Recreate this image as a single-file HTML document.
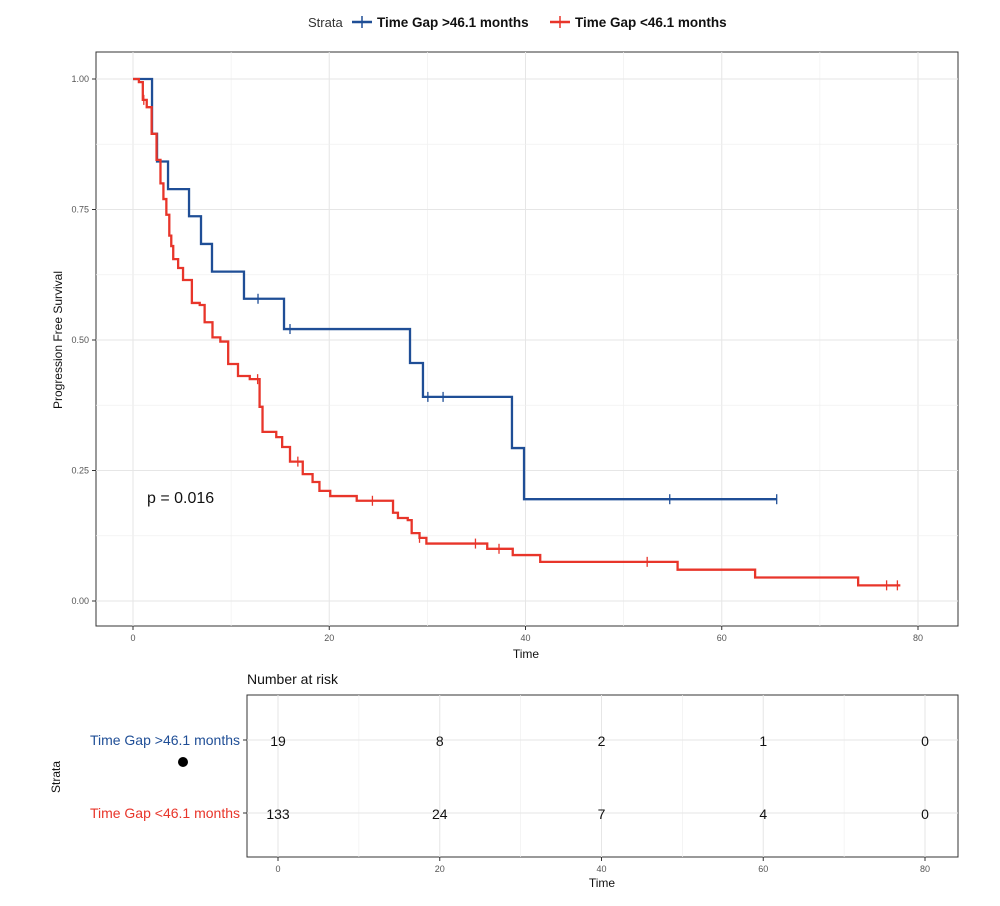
<!DOCTYPE html>
<html><head><meta charset="utf-8">
<style>
html,body{margin:0;padding:0;background:#fff;}
svg{display:block;font-family:"Liberation Sans",sans-serif;}
</style></head>
<body>
<svg id="chart" width="1000" height="906" viewBox="0 0 1000 906">
<g>
  <text x="308" y="27" font-size="13" fill="#333">Strata</text>
  <g>
    <line x1="352" y1="22" x2="372" y2="22" stroke="#1f4e96" stroke-width="2.5"/>
    <line x1="362" y1="16" x2="362" y2="28" stroke="#1f4e96" stroke-width="1.5"/>
    <text x="377" y="27" font-size="13.5" font-weight="bold" fill="#111">Time Gap &gt;46.1 months</text>
  </g>
  <g>
    <line x1="550" y1="22" x2="570" y2="22" stroke="#e8352a" stroke-width="2.5"/>
    <line x1="560" y1="16" x2="560" y2="28" stroke="#e8352a" stroke-width="1.5"/>
    <text x="575" y="27" font-size="13.5" font-weight="bold" fill="#111">Time Gap &lt;46.1 months</text>
  </g>
</g>
<g id="main"></g>
<text x="147" y="503" font-size="16" fill="#111">p = 0.016</text>
<text x="62" y="340" font-size="12" fill="#111" transform="rotate(-90 62 340)" text-anchor="middle">Progression Free Survival</text>
<text x="526" y="658" font-size="12" fill="#111" text-anchor="middle">Time</text>
<text x="247" y="684" font-size="14" fill="#111">Number at risk</text>
<g id="risk"></g>
<text x="60" y="777" font-size="12" fill="#111" transform="rotate(-90 60 777)" text-anchor="middle">Strata</text>
<text x="240" y="745" font-size="14" fill="#1f4e96" text-anchor="end">Time Gap &gt;46.1 months</text>
<text x="240" y="818" font-size="14" fill="#e8352a" text-anchor="end">Time Gap &lt;46.1 months</text>
<circle cx="183" cy="762" r="5" fill="#000"/>
<text x="602" y="887" font-size="12" fill="#111" text-anchor="middle">Time</text>
</svg>
<script>
const xTicks = [0, 20, 40, 60, 80];
const yTicks = [0, 0.25, 0.5, 0.75, 1.0];
const yTickLabels = ["0.00", "0.25", "0.50", "0.75", "1.00"];
const blueTimes = [0, 1.94, 2.45, 3.57, 5.71, 6.93, 8.05, 11.31, 15.39, 28.23, 29.55, 38.62, 39.85];
const blueSurv = [1.0, 0.895, 0.842, 0.789, 0.737, 0.684, 0.631, 0.579, 0.521, 0.456, 0.391, 0.293, 0.195];
const blueEnd = 65.6;
const blueCensorT = [12.74, 16.0, 30.05, 31.6, 54.7, 65.6];
const redTimes = [0, 0.6, 1.0, 1.4, 1.9, 2.4, 2.8, 3.1, 3.4, 3.7, 3.9, 4.1, 4.6, 5.1, 6.0, 6.8, 7.3, 8.1, 8.9, 9.7, 10.7, 11.9, 12.9, 13.2, 14.6, 15.2, 16.0, 17.3, 18.3, 19.0, 20.1, 22.8, 26.5, 27.0, 28.0, 28.4, 29.2, 29.9, 36.1, 38.7, 41.5, 55.5, 63.4, 73.9];
const redSurv = [1.0, 0.994, 0.96, 0.946, 0.895, 0.845, 0.80, 0.77, 0.74, 0.70, 0.68, 0.655, 0.638, 0.615, 0.571, 0.567, 0.534, 0.505, 0.497, 0.454, 0.431, 0.425, 0.372, 0.324, 0.314, 0.295, 0.267, 0.243, 0.228, 0.211, 0.201, 0.192, 0.169, 0.159, 0.155, 0.13, 0.121, 0.11, 0.10, 0.088, 0.075, 0.06, 0.045, 0.03];
const redEnd = 78.2;
const redCensorT = [1.1, 12.7, 16.8, 24.4, 29.2, 34.9, 37.3, 52.4, 76.8, 77.9];
const riskTimes = [0, 20, 40, 60, 80];
const riskBlue = [19, 8, 2, 1, 0];
const riskRed = [133, 24, 7, 4, 0];

const NS = "http://www.w3.org/2000/svg";
function mk(parent, tag, attrs){const e=document.createElementNS(NS,tag);for(const k in attrs)e.setAttribute(k,attrs[k]);parent.appendChild(e);return e;}
const X = t => 133 + t * 9.8125;
const Y = s => 601 - s * 522;
const RX = t => 278 + t * 8.0875;
const main = document.getElementById('main');
const risk = document.getElementById('risk');

// panel background + grid
let panel = mk(main,'rect',{x:96,y:52,width:862,height:574,fill:'#fff',stroke:'#333','stroke-width':1});


for (let i=0;i<xTicks.length;i++){
  const minor = xTicks[i]+10;
  if (X(minor) < 958) { const g=mk(main,'line',{x1:X(minor),x2:X(minor),y1:52,y2:626,stroke:'#f0f0f0','stroke-width':0.7});
      }
  const gl=mk(main,'line',{x1:X(xTicks[i]),x2:X(xTicks[i]),y1:52,y2:626,stroke:'#e6e6e6','stroke-width':1});
   
  const tk=mk(main,'line',{x1:X(xTicks[i]),x2:X(xTicks[i]),y1:626,y2:630,stroke:'#333'});
   
  const tl=mk(main,'text',{x:X(xTicks[i]),y:641,'font-size':9,fill:'#555','text-anchor':'middle'});
  tl.textContent = xTicks[i];
   
}
for (let i=0;i<yTicks.length;i++){
  if (i<yTicks.length-1){ const m=mk(main,'line',{x1:96,x2:958,y1:Y(yTicks[i]+0.125),y2:Y(yTicks[i]+0.125),stroke:'#f0f0f0','stroke-width':0.7});
      }
  const gl=mk(main,'line',{x1:96,x2:958,y1:Y(yTicks[i]),y2:Y(yTicks[i]),stroke:'#e6e6e6'});
   
  const tk=mk(main,'line',{x1:92,x2:96,y1:Y(yTicks[i]),y2:Y(yTicks[i]),stroke:'#333'});
   
  const tl=mk(main,'text',{x:89,y:Y(yTicks[i])+3,'font-size':9,fill:'#555','text-anchor':'end'});
  tl.textContent = yTickLabels[i];
   
}
function stepPath(ts, ss, end){
  let d = 'M'+X(ts[0])+','+Y(ss[0]);
  for (let i=1;i<ts.length;i++){ d += ' H'+X(ts[i])+' V'+Y(ss[i]); }
  d += ' H'+X(end);
  return d;
}
function survAt(ts, ss, t){ let s=ss[0]; for(let i=0;i<ts.length;i++){ if(ts[i]<=t) s=ss[i]; } return s; }
function drawCurve(ts, ss, end, cens, color, name){
  const p=mk(main,'path',{d:stepPath(ts,ss,end),fill:'none',stroke:color,'stroke-width':2.3});
  
  
  for (const c of cens){
    const y=Y(survAt(ts,ss,c));
    const m=mk(main,'line',{x1:X(c),x2:X(c),y1:y-5,y2:y+5,stroke:color,'stroke-width':1.3});
    
    
  }
}
drawCurve(blueTimes, blueSurv, blueEnd, blueCensorT, '#1f4e96', 'curve-time-gap-over-46');
drawCurve(redTimes, redSurv, redEnd, redCensorT, '#e8352a', 'curve-time-gap-under-46');

// risk table
let rp = mk(risk,'rect',{x:247,y:695,width:711,height:162,fill:'#fff',stroke:'#333','stroke-width':1});


for (let i=0;i<riskTimes.length;i++){
  const t=riskTimes[i];
  if (RX(t+10)<958){ const m=mk(risk,'line',{x1:RX(t+10),x2:RX(t+10),y1:695,y2:857,stroke:'#f0f0f0','stroke-width':0.7});
      }
  const g=mk(risk,'line',{x1:RX(t),x2:RX(t),y1:695,y2:857,stroke:'#e6e6e6'});
   
  const tk=mk(risk,'line',{x1:RX(t),x2:RX(t),y1:857,y2:861,stroke:'#333'});
   
  const tl=mk(risk,'text',{x:RX(t),y:872,'font-size':9,fill:'#555','text-anchor':'middle'});
  tl.textContent=t;
   
  const b=mk(risk,'text',{x:RX(t),y:746,'font-size':14,fill:'#111','text-anchor':'middle'});
  b.textContent=riskBlue[i];
   
  const r=mk(risk,'text',{x:RX(t),y:819,'font-size':14,fill:'#111','text-anchor':'middle'});
  r.textContent=riskRed[i];
   
}
for (const yy of [740,813]){
  const g=mk(risk,'line',{x1:247,x2:958,y1:yy,y2:yy,stroke:'#e6e6e6'});
   
  const tk=mk(risk,'line',{x1:243,x2:247,y1:yy,y2:yy,stroke:'#333'});
   
}
// bring numbers above grid lines
risk.querySelectorAll('text').forEach(t=>risk.appendChild(t));
</script>
</body></html>
